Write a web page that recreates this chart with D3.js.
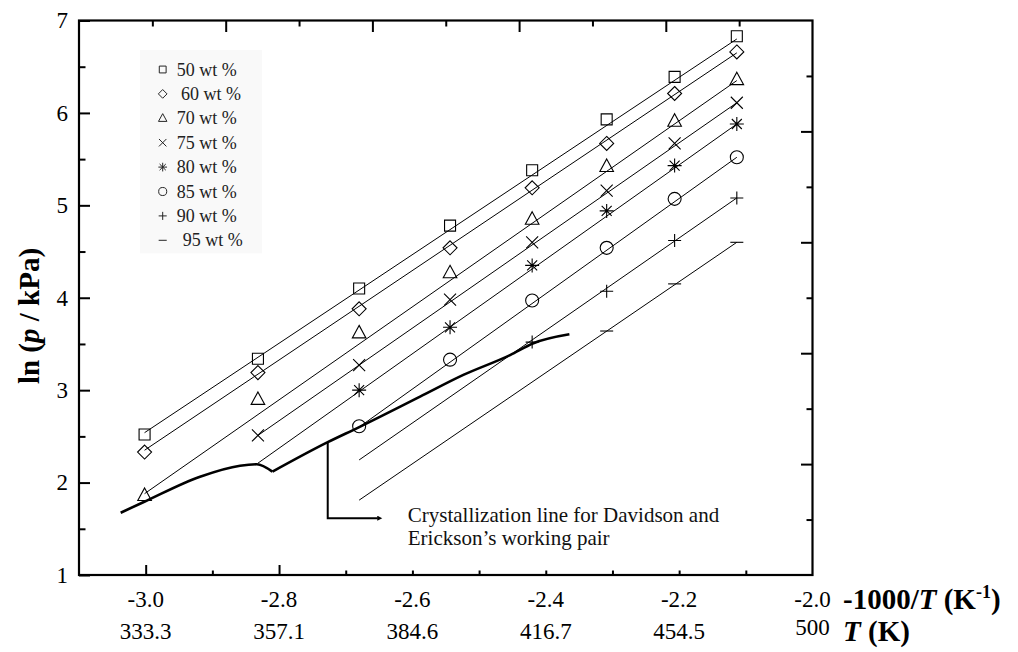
<!DOCTYPE html>
<html>
<head>
<meta charset="utf-8">
<script src="https://cdn.jsdelivr.net/npm/d3@7"></script>
<style>
	body { margin: 0; background: #fff; }
	svg { display: block; font-family: "Liberation Serif", "Times New Roman", serif; }
</style>
</head>
<body>
<div id="chart"></div>
<script>
// Measurement temperatures (K), plotted as -1000/T
const temps = [333.15, 353.15, 373.15, 393.15, 413.15, 433.15, 453.15, 473.15];

const seriesNames = ["50 wt %", "60 wt %", "70 wt %", "75 wt %", "80 wt %", "85 wt %", "90 wt %", "95 wt %"];
const seriesMarkers = ["square", "diamond", "triangle", "times", "star", "circle", "plus", "dash"];

// ln(p/kPa), null = crystallized / not measured
const lnP50 = [2.52, 3.34, 4.10, 4.78, 5.38, 5.93, 6.39, 6.83];
const lnP60 = [2.33, 3.19, 3.88, 4.54, 5.19, 5.67, 6.21, 6.66];
const lnP70 = [1.86, 2.90, 3.62, 4.27, 4.85, 5.42, 5.91, 6.36];
const lnP75 = [null, 2.51, 3.27, 3.98, 4.60, 5.16, 5.67, 6.11];
const lnP80 = [null, null, 3.00, 3.68, 4.35, 4.94, 5.43, 5.88];
const lnP85 = [null, null, 2.61, 3.33, 3.97, 4.54, 5.07, 5.52];
const lnP90 = [null, null, null, null, 3.52, 4.07, 4.62, 5.08];
const lnP95 = [null, null, null, null, null, 3.64, 4.15, 4.60];
const seriesValues = [lnP50, lnP60, lnP70, lnP75, lnP80, lnP85, lnP90, lnP95];

// fitted lines: start/end in (-1000/T, ln p)
const fitX0 = [-3.0017, -3.0017, -3.0017, -2.8317, -2.8317, -2.6799, -2.6799, -2.6799];
const fitY0 = [2.54, 2.35, 1.88, 2.51, 2.21, 2.60, 2.245, 1.81];
const fitX1 = [-2.1135, -2.1135, -2.1135, -2.1135, -2.1135, -2.1135, -2.1135, -2.1135];
const fitY1 = [6.80, 6.65, 6.35, 6.11, 5.88, 5.52, 5.08, 4.60];

// crystallization line (two pieces, cusp between them)
const crystAX = [-3.0375, -3.002, -2.9185, -2.8585, -2.8334, -2.81];
const crystAY = [1.674, 1.793, 2.064, 2.183, 2.198, 2.118];
const crystBX = [-2.81, -2.7285, -2.6805, -2.5885, -2.5236, -2.4535, -2.4186, -2.3646];
const crystBY = [2.118, 2.432, 2.598, 2.93, 3.165, 3.38, 3.508, 3.605];

// annotation arrow path and text
const arrowX = [-2.727, -2.727, -2.652];
const arrowY = [2.44, 1.615, 1.615];
const noteX = -2.607;
const noteY = [1.577, 1.325];
const noteLines = ["Crystallization line for Davidson and", "Erickson\u2019s working pair"];

// axis ticks / labels
const yMajor = [1, 2, 3, 4, 5, 6, 7];
const yMinor = [1.5, 2.5, 3.5, 4.5, 5.5, 6.5];
const xLabelVals = [-3.0, -2.8, -2.6, -2.4, -2.2, -2.0];
const tLabels = ["333.3", "357.1", "384.6", "416.7", "454.5", "500"];
const xLongTicks = [-3.0, -2.8];
const xShortTicks = [-2.9, -2.7, -2.6, -2.5, -2.4, -2.3, -2.2, -2.1];

const width = 1018, height = 652;
const margin = {left: 79, right: 205.5, top: 20.5, bottom: 77};

const svg = d3.select("#chart").append("svg")
	.attr("width", width)
	.attr("height", height);

const x = d3.scaleLinear().domain([-3.1, -2.0]).range([margin.left, width - margin.right]);
const y = d3.scaleLinear().domain([1, 7]).range([height - margin.bottom, margin.top]);
// frame ticks on top/right split the box in ten
const fx = d3.scaleLinear().domain([0, 10]).range(x.range());
const fy = d3.scaleLinear().domain([0, 10]).range(y.range());

function markerPath(type) {
	switch (type) {
		case "square": return "M-5.5,-5.5h11v11h-11Z";
		case "diamond": return "M0,-7L7,0L0,7L-7,0Z";
		case "triangle": return "M0,-7.5L6.8,5L-6.8,5Z";
		case "times": return "M-6,-6L6,6M-6,6L6,-6";
		case "star": return "M0,-7V7M-7,0H7M-5,-5L5,5M-5,5L5,-5";
		case "circle": return "M6.5,0A6.5,6.5 0 1 1 -6.5,0A6.5,6.5 0 1 1 6.5,0Z";
		case "plus": return "M-6.5,0H6.5M0,-6.5V6.5";
		case "dash": return "M-6.5,0H6.5";
	}
}

// legend background + entries
const legend = svg.append("g");
legend.append("rect")
	.attr("x", x(-3.0085)).attr("y", y(6.68))
	.attr("width", x(-2.8255) - x(-3.0085))
	.attr("height", y(4.48) - y(6.68))
	.attr("fill", "#f9f9f9");

const legendTextX = [176.7, 181, 176.7, 176.7, 176.7, 176.7, 176.7, 182.7];
seriesNames.forEach((name, i) => {
	const cy = 69.5 + i * 24.4;
	legend.append("path")
		.attr("d", markerPath(seriesMarkers[i]))
		.attr("transform", `translate(162.7,${cy}) scale(0.62)`)
		.attr("fill", "none")
		.attr("stroke", "#222")
		.attr("stroke-width", 1.6);
	legend.append("text")
		.attr("x", legendTextX[i])
		.attr("y", cy + 6)
		.attr("font-size", 18)
		.attr("fill", "#222")
		.text(name);
});

// fitted lines
const line = d3.line().x(d => x(d[0])).y(d => y(d[1]));
const plot = svg.append("g");
seriesNames.forEach((name, i) => {
	plot.append("path")
		.attr("d", line([[fitX0[i], fitY0[i]], [fitX1[i], fitY1[i]]]))
		.attr("fill", "none")
		.attr("stroke", "#000")
		.attr("stroke-width", 1);
});

// markers
seriesValues.forEach((vals, i) => {
	plot.selectAll(null)
		.data(vals.map((v, j) => ({x: -1000 / temps[j], y: v})).filter(d => d.y != null))
		.join("path")
		.attr("d", markerPath(seriesMarkers[i]))
		.attr("transform", d => `translate(${x(d.x)},${y(d.y)})`)
		.attr("fill", "none")
		.attr("stroke", "#000")
		.attr("stroke-width", 1.1);
});

// crystallization line
const curve = d3.line().x(d => x(d[0])).y(d => y(d[1])).curve(d3.curveMonotoneX);
[[crystAX, crystAY], [crystBX, crystBY]].forEach(([xs, ys]) => {
	plot.append("path")
		.attr("d", curve(xs.map((v, k) => [v, ys[k]])))
		.attr("fill", "none")
		.attr("stroke", "#000")
		.attr("stroke-width", 2.6);
});

// arrow
svg.append("defs").append("marker")
	.attr("id", "arrowhead")
	.attr("viewBox", "0 0 10 10")
	.attr("refX", 1).attr("refY", 5)
	.attr("markerWidth", 7).attr("markerHeight", 5)
	.attr("markerUnits", "userSpaceOnUse")
	.attr("orient", "auto")
	.append("path")
	.attr("d", "M0,0L10,5L0,10Z")
	.attr("fill", "#000");
svg.append("path")
	.attr("d", d3.line()(arrowX.map((v, k) => [x(v), y(arrowY[k])])))
	.attr("fill", "none")
	.attr("stroke", "#000")
	.attr("stroke-width", 2)
	.attr("marker-end", "url(#arrowhead)");

svg.append("g").selectAll("text")
	.data(noteLines)
	.join("text")
	.attr("x", x(noteX))
	.attr("y", (d, i) => y(noteY[i]))
	.attr("font-size", 21)
	.attr("fill", "#111")
	.text(d => d);

// frame
svg.append("rect")
	.attr("x", x(-3.1)).attr("y", y(7))
	.attr("width", x(-2.0) - x(-3.1))
	.attr("height", y(1) - y(7))
	.attr("fill", "none")
	.attr("stroke", "#000")
	.attr("stroke-width", 2.2);

// left axis: labelled integers with longer ticks, halves shorter
const yAxisMajor = svg.append("g")
	.attr("transform", `translate(${x(-3.1)},0)`)
	.call(d3.axisLeft(y).tickValues(yMajor).tickSize(-11).tickPadding(11).tickFormat(d3.format("d")));
const yAxisMinor = svg.append("g")
	.attr("transform", `translate(${x(-3.1)},0)`)
	.call(d3.axisLeft(y).tickValues(yMinor).tickSize(-6.5).tickFormat(""));

// bottom axis
const xAxisLong = svg.append("g")
	.attr("transform", `translate(0,${y(1)})`)
	.call(d3.axisBottom(x).tickValues(xLongTicks).tickSize(-10).tickFormat(""));
const xAxisShort = svg.append("g")
	.attr("transform", `translate(0,${y(1)})`)
	.call(d3.axisBottom(x).tickValues(xShortTicks).tickSize(-4.5).tickFormat(""));

// top + right frame ticks
const topTicks = svg.append("g")
	.attr("transform", `translate(0,${y(7)})`)
	.call(d3.axisTop(fx).tickValues(d3.range(1, 10)).tickSize(0).tickFormat(""));
topTicks.selectAll(".tick line").attr("y2", d => d % 2 === 0 ? 11.5 : 6);
const rightTicks = svg.append("g")
	.attr("transform", `translate(${x(-2.0)},0)`)
	.call(d3.axisRight(fy).tickValues(d3.range(1, 10)).tickSize(0).tickFormat(""));
rightTicks.selectAll(".tick line").attr("x2", d => d % 2 === 0 ? -11.5 : -6);

[yAxisMajor, yAxisMinor, xAxisLong, xAxisShort, topTicks, rightTicks].forEach(g => {
	g.select(".domain").remove();
	g.selectAll(".tick line").attr("stroke", "#000").attr("stroke-width", 2);
});
yAxisMajor.selectAll(".tick text")
	.attr("font-family", "Liberation Serif")
	.attr("font-size", 23)
	.attr("fill", "#000");

// bottom labels: -1000/T row and T row
const xLabels = svg.append("g");
xLabels.selectAll(".xl")
	.data(xLabelVals)
	.join("text")
	.attr("class", "xl")
	.attr("x", d => x(d))
	.attr("y", 607)
	.attr("text-anchor", "middle")
	.attr("font-size", 23)
	.text(d => d.toFixed(1));
xLabels.selectAll(".tl")
	.data(tLabels)
	.join("text")
	.attr("class", "tl")
	.attr("x", (d, i) => x(xLabelVals[i]))
	.attr("y", (d, i) => d === "500" ? 635 : 639)
	.attr("text-anchor", "middle")
	.attr("font-size", 23)
	.text(d => d);

// axis titles
const xTitle = svg.append("text")
	.attr("x", 843).attr("y", 609)
	.attr("font-size", 29).attr("font-weight", "bold");
xTitle.append("tspan").text("-1000/");
xTitle.append("tspan").attr("font-style", "italic").text("T");
xTitle.append("tspan").text(" (K");
xTitle.append("tspan").attr("font-size", 18).attr("dy", -11).text("-1");
xTitle.append("tspan").attr("dy", 11).text(")");

const tTitle = svg.append("text")
	.attr("x", 843).attr("y", 641)
	.attr("font-size", 29).attr("font-weight", "bold");
tTitle.append("tspan").attr("font-style", "italic").text("T");
tTitle.append("tspan").text(" (K)");

const yTitle = svg.append("text")
	.attr("transform", "translate(39,316) rotate(-90)")
	.attr("text-anchor", "middle")
	.attr("font-size", 29).attr("font-weight", "bold");
yTitle.append("tspan").text("ln (");
yTitle.append("tspan").attr("font-style", "italic").text("p");
yTitle.append("tspan").text(" / kPa)");
</script>
</body>
</html>
